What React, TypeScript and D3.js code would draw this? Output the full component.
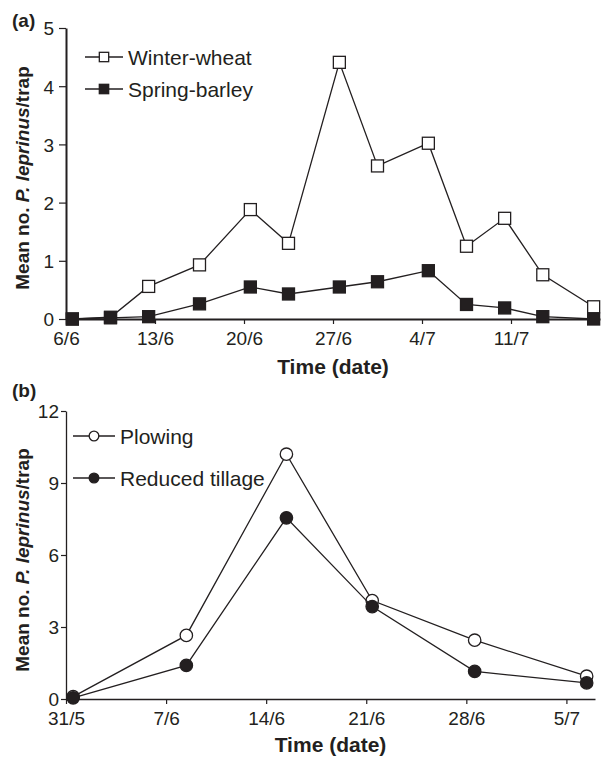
import React, { useRef, useEffect } from 'react';
import * as d3 from 'd3';

// panel (a): sampling dates and mean catches per trap
const datesA = [
  '2000-06-06T12:00', '2000-06-09T12:00', '2000-06-12T12:00', '2000-06-16T12:00',
  '2000-06-20T12:00', '2000-06-23T12:00', '2000-06-27T12:00', '2000-06-30T12:00',
  '2000-07-04T12:00', '2000-07-07T12:00', '2000-07-10T12:00', '2000-07-13T12:00',
  '2000-07-17T12:00'
];
const winterWheat = [0, 0.03, 0.56, 0.93, 1.88, 1.3, 4.41, 2.63, 3.02, 1.25, 1.73, 0.76, 0.21];
const springBarley = [0, 0.02, 0.04, 0.26, 0.55, 0.43, 0.55, 0.64, 0.83, 0.25, 0.19, 0.04, 0];
const xTicksA = ['2000-06-06', '2000-06-13', '2000-06-20', '2000-06-27', '2000-07-04', '2000-07-11'];
const yTicksA = [0, 1, 2, 3, 4, 5];

// panel (b)
const datesB = [
  '2000-05-31T12:00', '2000-06-08T10:00', '2000-06-15T10:00',
  '2000-06-21T10:00', '2000-06-28T14:00', '2000-07-06T10:00'
];
const plowing = [0.1, 2.65, 10.2, 4.1, 2.45, 0.95];
const reducedTillage = [0.05, 1.4, 7.55, 3.85, 1.15, 0.67];
const xTicksB = ['2000-05-31', '2000-06-07', '2000-06-14', '2000-06-21', '2000-06-28', '2000-07-05'];
const yTicksB = [0, 3, 6, 9, 12];

const FONT = '"Liberation Sans", Arial, Helvetica, sans-serif';
const INK = '#231f20';

const parse = (s: string) => new Date(s.length > 10 ? s : s + 'T00:00');
const fmt = (d: Date) => `${d.getDate()}/${d.getMonth() + 1}`;

const App = () => {
  const svgRef = useRef<SVGSVGElement>(null);

  useEffect(() => {
    const svg = d3.select(svgRef.current);
    svg.selectAll('*').remove();

    const drawPanel = (opts: any) => {
      const { x, y, xTicks, yTicks, tickY, padY, axisWidth, series, marker, legend, label, labelY, titleY, yTitleMid } = opts;
      const g = svg.append('g');
      const [x0, x1] = x.range();
      const [y0] = y.range();

      // axes
      const ax = g.append('g')
        .attr('transform', `translate(0,${y0})`)
        .call(d3.axisBottom(x).tickValues(xTicks.map(parse)).tickFormat(fmt as any)
          .tickSize(5).tickSizeOuter(0).tickPadding(8));
      const ay = g.append('g')
        .attr('transform', `translate(${x0},0)`)
        .call(d3.axisLeft(y).tickValues(yTicks).tickFormat(d3.format('d') as any)
          .tickSize(tickY).tickSizeOuter(0).tickPadding(padY));
      [ax, ay].forEach(a => {
        a.attr('font-family', FONT).attr('font-size', 19).attr('color', INK);
        a.select('.domain').attr('stroke-width', axisWidth);
        a.selectAll('.tick line').attr('stroke-width', 1.2);
      });
      ay.selectAll('.tick text').attr('dy', '0.36em');

      // lines and markers
      series.forEach((s: any) => {
        const pts = s.values.map((v: number, i: number) => ({ d: parse(s.dates[i]), v }));
        g.append('path')
          .datum(pts)
          .attr('fill', 'none')
          .attr('stroke', INK)
          .attr('stroke-width', 1.3)
          .attr('d', d3.line<any>().x(p => x(p.d)).y(p => y(p.v)));
        const m = g.append('g').selectAll('g').data(pts).join('g')
          .attr('transform', (p: any) => `translate(${x(p.d)},${y(p.v)})`);
        marker(m, s.fill, 1);
      });

      // legend
      series.forEach((s: any, i: number) => {
        const row = g.append('g').attr('transform', `translate(${legend.x},${legend.y[i]})`);
        row.append('line').attr('x1', 0).attr('x2', legend.len)
          .attr('stroke', INK).attr('stroke-width', 1.3);
        const mk = row.append('g').attr('transform', `translate(${legend.len / 2},0)`);
        marker(mk, s.fill, 0.78);
        row.append('text')
          .attr('x', legend.len + 5).attr('dy', '0.36em')
          .attr('font-family', FONT).attr('font-size', 21).attr('fill', INK)
          .text(s.name);
      });

      // panel label
      g.append('text')
        .attr('x', 12).attr('y', labelY)
        .attr('font-family', FONT).attr('font-size', 19).attr('font-weight', 'bold').attr('fill', INK)
        .text(label);

      // x title
      g.append('text')
        .attr('x', (x0 + x1) / 2).attr('y', titleY)
        .attr('text-anchor', 'middle')
        .attr('font-family', FONT).attr('font-size', 21).attr('font-weight', 'bold').attr('fill', INK)
        .text('Time (date)');

      // y title
      const yt = g.append('text')
        .attr('transform', `translate(29,${yTitleMid}) rotate(-90)`)
        .attr('text-anchor', 'middle')
        .attr('font-family', FONT).attr('font-size', 19).attr('font-weight', 'bold').attr('fill', INK);
      yt.append('tspan').text('Mean no. ');
      yt.append('tspan').attr('font-style', 'italic').text('P. leprinus');
      yt.append('tspan').text('/trap');
    };

    const square = (sel: any, fill: string, k: number) => {
      const s = 12 * k;
      sel.append('rect')
        .attr('x', -s / 2).attr('y', -s / 2).attr('width', s).attr('height', s)
        .attr('fill', fill).attr('stroke', INK).attr('stroke-width', 1.3);
    };
    const circle = (sel: any, fill: string, k: number) => {
      sel.append('circle')
        .attr('r', 6.2 * k)
        .attr('fill', fill).attr('stroke', INK).attr('stroke-width', 1.3);
    };

    drawPanel({
      x: d3.scaleTime([new Date(2000, 5, 6), new Date(2000, 6, 18)], [66, 600]),
      y: d3.scaleLinear([0, 5], [319, 28]),
      xTicks: xTicksA, yTicks: yTicksA, tickY: 7, padY: 5, axisWidth: 2,
      series: [
        { name: 'Winter-wheat', dates: datesA, values: winterWheat, fill: '#fff' },
        { name: 'Spring-barley', dates: datesA, values: springBarley, fill: INK }
      ],
      marker: square,
      legend: { x: 85, len: 38, y: [57, 89] },
      label: '(a)', labelY: 27, titleY: 374, yTitleMid: 178
    });

    drawPanel({
      x: d3.scaleTime([new Date(2000, 4, 31), new Date(2000, 6, 7)], [66, 595]),
      y: d3.scaleLinear([0, 12], [699, 411]),
      xTicks: xTicksB, yTicks: yTicksB, tickY: 5, padY: 2, axisWidth: 1.3,
      series: [
        { name: 'Plowing', dates: datesB, values: plowing, fill: '#fff' },
        { name: 'Reduced tillage', dates: datesB, values: reducedTillage, fill: INK }
      ],
      marker: circle,
      legend: { x: 73, len: 42, y: [436, 478] },
      label: '(b)', labelY: 397, titleY: 752, yTitleMid: 560
    });
  }, []);

  return (
    <svg
      ref={svgRef}
      width={605}
      height={758}
      style={{ position: 'absolute', left: 0, top: 0, background: '#fff' }}
    />
  );
};

export default App;
